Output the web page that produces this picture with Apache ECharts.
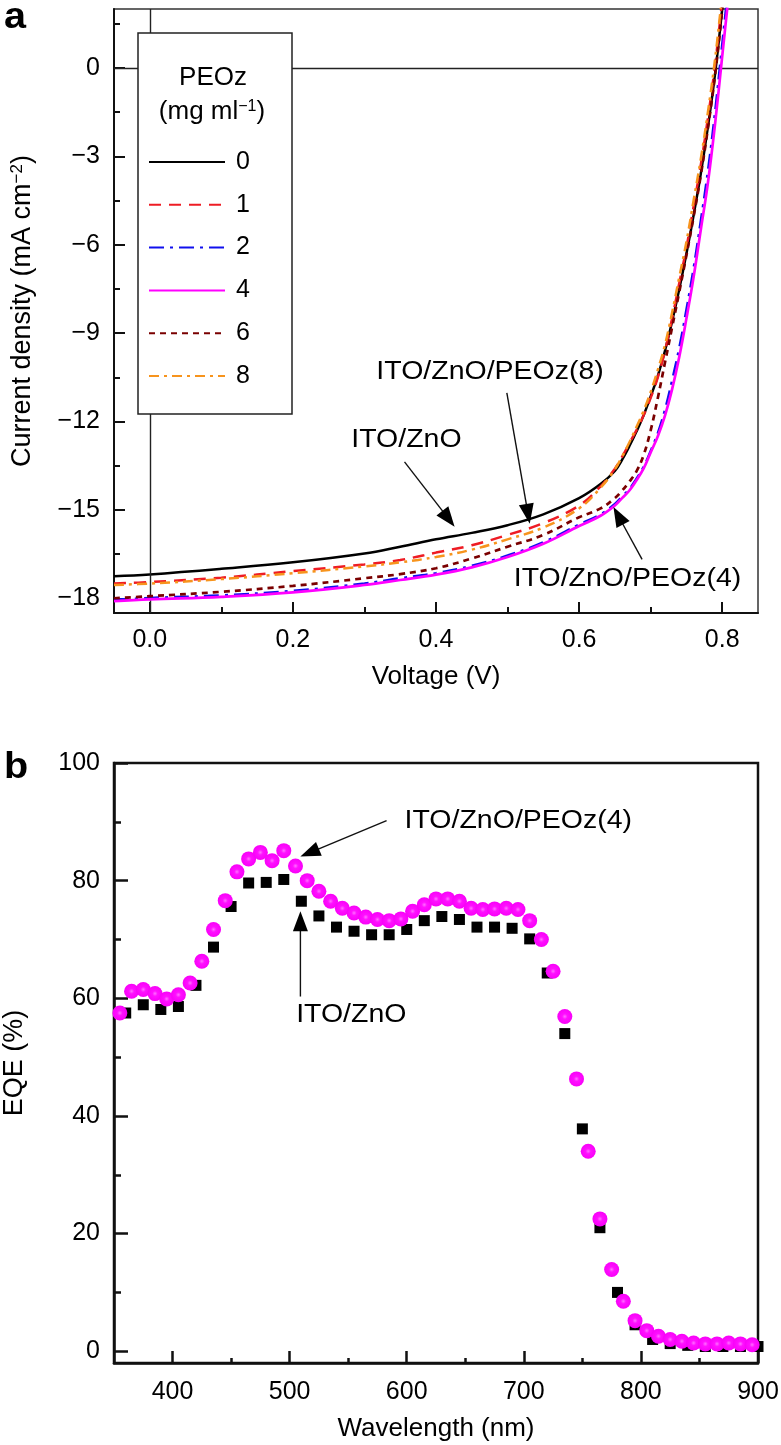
<!DOCTYPE html>
<html>
<head>
<meta charset="utf-8">
<script src="https://cdn.jsdelivr.net/npm/echarts@6.0.0/dist/echarts.min.js"></script>
<style>
html,body{margin:0;padding:0;background:#ffffff;}
#chart{width:781px;height:1445px;}
</style>
</head>
<body>
<div id="chart"></div>
<script>
// ---------------- Panel a : J–V curves ----------------
const voltage = [-0.05, 0, 0.1, 0.2, 0.3, 0.35, 0.4, 0.45, 0.5, 0.55, 0.6, 0.63, 0.65, 0.66, 0.67, 0.68, 0.69, 0.70, 0.71, 0.72, 0.73, 0.74, 0.75, 0.76, 0.77, 0.78, 0.79, 0.80, 0.81];
const jPEOz0 = [-17.25, -17.19, -17.0, -16.78, -16.48, -16.25, -16.0, -15.78, -15.52, -15.15, -14.6, -14.12, -13.68, -13.3, -12.85, -12.35, -11.8, -11.15, -10.45, -9.6, -8.6, -7.5, -6.3, -5.0, -3.6, -2.0, -0.2, 2.0, 4.3];
const jPEOz1 = [-17.5, -17.45, -17.3, -17.08, -16.85, -16.7, -16.45, -16.2, -15.85, -15.45, -14.85, -14.2, -13.6, -13.2, -12.75, -12.3, -11.8, -11.2, -10.5, -9.6, -8.5, -7.3, -6.1, -4.7, -3.3, -1.7, 0.1, 2.3, 4.6];
const jPEOz2 = [-18.05, -17.99, -17.9, -17.75, -17.5, -17.32, -17.15, -16.9, -16.55, -16.1, -15.5, -15.15, -14.8, -14.55, -14.3, -13.95, -13.55, -13.0, -12.4, -11.6, -10.6, -9.5, -8.2, -6.8, -5.2, -3.5, -1.5, 0.8, 3.1];
const jPEOz4 = [-18.1, -18.04, -17.95, -17.8, -17.55, -17.38, -17.2, -16.95, -16.6, -16.15, -15.55, -15.2, -14.85, -14.6, -14.35, -14.0, -13.6, -13.05, -12.5, -11.8, -10.9, -9.8, -8.5, -7.1, -5.5, -3.9, -1.9, 0.4, 2.7];
const jPEOz6 = [-18.0, -17.93, -17.78, -17.58, -17.32, -17.18, -16.98, -16.65, -16.25, -15.85, -15.25, -14.95, -14.6, -14.35, -14.05, -13.7, -13.15, -12.3, -11.2, -10.0, -8.8, -7.6, -6.35, -5.05, -3.65, -2.05, -0.25, 1.95, 4.25];
const jPEOz8 = [-17.55, -17.5, -17.35, -17.15, -16.92, -16.78, -16.6, -16.35, -16.0, -15.6, -14.95, -14.25, -13.62, -13.2, -12.72, -12.2, -11.65, -11.0, -10.25, -9.4, -8.3, -7.1, -5.9, -4.5, -3.1, -1.5, 0.3, 2.5, 4.8];
const concentrations = ['0', '1', '2', '4', '6', '8'];
const voltageTicks = [0, 0.2, 0.4, 0.6, 0.8];
const voltageMinorTicks = [0.1, 0.3, 0.5, 0.7];
const currentTicks = [-18, -15, -12, -9, -6, -3, 0];
const currentMinorTicks = [-16.5, -13.5, -10.5, -7.5, -4.5, -1.5, 1.5];

// ---------------- Panel b : EQE ----------------
const wavelengthPEOz4 = [355, 365, 375, 385, 395, 405, 415, 425, 435, 445, 455, 465, 475, 485, 495, 505, 515, 525, 535, 545, 555, 565, 575, 585, 595, 605, 615, 625, 635, 645, 655, 665, 675, 685, 695, 705, 715, 725, 735, 745, 755, 765, 775, 785, 795, 805, 815, 825, 835, 845, 855, 865, 875, 885, 895];
const eqePEOz4 = [57.5, 61.2, 61.5, 60.8, 59.9, 60.6, 62.6, 66.3, 71.7, 76.6, 81.5, 83.7, 84.8, 83.4, 85.1, 82.5, 80.0, 78.2, 76.5, 75.3, 74.5, 73.8, 73.4, 73.2, 73.5, 74.8, 75.9, 76.9, 76.9, 76.5, 75.3, 75.1, 75.2, 75.3, 75.1, 73.2, 70.0, 64.6, 56.9, 46.3, 34.0, 22.5, 13.9, 8.5, 5.2, 3.5, 2.55, 2.0, 1.7, 1.4, 1.25, 1.25, 1.4, 1.25, 1.1];
const wavelengthZnO = [360, 375, 390, 405, 420, 435, 450, 465, 480, 495, 510, 525, 540, 555, 570, 585, 600, 615, 630, 645, 660, 675, 690, 705, 720, 735, 750, 765, 780, 795, 810, 825, 840, 855, 870, 885, 900];
const eqeZnO = [57.5, 58.9, 58.1, 58.6, 62.2, 68.7, 75.6, 79.6, 79.7, 80.2, 76.5, 74.0, 72.1, 71.4, 70.8, 70.8, 71.7, 73.2, 73.9, 73.4, 72.1, 72.1, 71.9, 70.1, 64.3, 54.0, 37.8, 21.0, 10.0, 4.5, 2.0, 1.3, 1.0, 0.8, 0.8, 0.8, 0.8];
const wavelengthTicks = [400, 500, 600, 700, 800, 900];
const wavelengthMinorTicks = [450, 550, 650, 750, 850];
const eqeTicks = [0, 20, 40, 60, 80, 100];
const eqeMinorTicks = [10, 30, 50, 70, 90];

// ---------------- annotations (data coordinates) ----------------
const annotA = [
  {text: 'ITO/ZnO', at: [0.283, -12.62], tail: [0.356, -13.37], tip: [0.426, -15.57]},
  {text: 'ITO/ZnO/PEOz(8)', at: [0.318, -10.32], tail: [0.499, -11.03], tip: [0.531, -15.47]},
  {text: 'ITO/ZnO/PEOz(4)', at: [0.510, -17.36], tail: [0.688, -16.68], tip: [0.648, -14.9]}
];
const annotB = [
  {text: 'ITO/ZnO/PEOz(4)', at: [599, 90.1], tail: [582.8, 90.2], tip: [509.2, 84.1]},
  {text: 'ITO/ZnO', at: [506.4, 57.2], tail: [509.2, 60.3], tip: [509.2, 74.8]}
];

const FONT = '"Liberation Sans", Arial, Helvetica, sans-serif';
const jvStyles = {
  '0': {color: '#000000', type: 'solid', width: 2.5},
  '1': {color: '#ee1c24', type: [12, 8], width: 2.5},
  '2': {color: '#1010ee', type: [15, 6, 3, 6], width: 2.5},
  '4': {color: '#ff00ff', type: 'solid', width: 2.7},
  '6': {color: '#7a0000', type: [6, 5], width: 2.7},
  '8': {color: '#f7941d', type: [10, 5, 3, 5], width: 2.5}
};
const jvData = {'0': jPEOz0, '1': jPEOz1, '2': jPEOz2, '4': jPEOz4, '6': jPEOz6, '8': jPEOz8};

const minus = v => String(v).replace('-', '\u2212');

function valueAxis(extra) {
  return Object.assign({
    type: 'value',
    splitLine: {show: false},
    axisLine: {onZero: false, lineStyle: {color: '#111', width: 2}},
    axisLabel: {color: '#000', fontSize: 25, fontFamily: FONT},
    nameTextStyle: {color: '#000', fontSize: 26, fontFamily: FONT}
  }, extra);
}
function minorAxis(extra, values, len, width) {
  return Object.assign({
    type: 'value',
    splitLine: {show: false},
    axisLine: {show: false, onZero: false},
    axisLabel: {show: false},
    axisTick: {show: true, inside: true, length: len, customValues: values, lineStyle: {color: '#111', width: width}}
  }, extra);
}

const chart = echarts.init(document.getElementById('chart'), null, {renderer: 'canvas'});

const series = [];
concentrations.forEach((c, k) => {
  const st = jvStyles[c];
  const s = {
    name: c, type: 'line', xAxisIndex: 0, yAxisIndex: 0,
    symbol: 'none', smooth: 0.4, clip: true,
    lineStyle: {color: st.color, type: st.type, width: st.width},
    itemStyle: {color: st.color},
    data: voltage.map((v, i) => [v, jvData[c][i]]),
    z: 3 + k
  };
  if (c === '0') {
    s.markLine = {
      silent: true, symbol: ['none', 'none'], label: {show: false},
      lineStyle: {color: '#222', width: 1.4, type: 'solid'},
      data: [{xAxis: 0}, {yAxis: 0}],
      animation: false
    };
  }
  series.push(s);
});
series.push({
  name: 'ITO/ZnO', type: 'scatter', xAxisIndex: 2, yAxisIndex: 2,
  symbol: 'rect', symbolSize: 11, itemStyle: {color: '#000', opacity: 1},
  data: wavelengthZnO.map((w, i) => [w, eqeZnO[i]]), z: 3
});
series.push({
  name: 'ITO/ZnO/PEOz(4)', type: 'scatter', xAxisIndex: 2, yAxisIndex: 2,
  symbol: 'circle', symbolSize: 15,
  itemStyle: {opacity: 1, color: {type: 'radial', x: 0.5, y: 0.5, r: 0.5, colorStops: [
    {offset: 0, color: '#ff70ff'}, {offset: 0.35, color: '#ff10ff'}, {offset: 1, color: '#f800f8'}]}},
  data: wavelengthPEOz4.map((w, i) => [w, eqePEOz4[i]]), z: 4
});

const option = {
  animation: false,
  backgroundColor: '#ffffff',
  textStyle: {fontFamily: FONT, color: '#000'},
  grid: [
    {left: 114, top: 9, width: 644, height: 604, show: true, borderColor: '#333', borderWidth: 1.5, backgroundColor: 'transparent', outerBoundsMode: 'none', containLabel: false},
    {left: 114, top: 763, width: 644, height: 600, show: true, borderColor: '#111', borderWidth: 2.5, backgroundColor: 'transparent', outerBoundsMode: 'none', containLabel: false}
  ],
  xAxis: [
    valueAxis({gridIndex: 0, min: -0.05, max: 0.85, position: 'bottom',
      axisTick: {show: true, inside: true, length: 11, customValues: voltageTicks, lineStyle: {color: '#111', width: 2}},
      axisLabel: {color: '#000', fontSize: 25, fontFamily: FONT, margin: 15, customValues: voltageTicks, formatter: v => v.toFixed(1)},
      name: 'Voltage (V)', nameLocation: 'middle', nameGap: 51}),
    minorAxis({gridIndex: 0, min: -0.05, max: 0.85, position: 'bottom'}, voltageMinorTicks, 6, 2),
    valueAxis({gridIndex: 1, min: 350, max: 900, position: 'bottom',
      axisLine: {onZero: false, lineStyle: {color: '#111', width: 2.5}},
      axisTick: {show: true, inside: true, length: 12, customValues: wavelengthTicks, lineStyle: {color: '#111', width: 2.5}},
      axisLabel: {color: '#000', fontSize: 25, fontFamily: FONT, margin: 17, customValues: wavelengthTicks},
      name: 'Wavelength (nm)', nameLocation: 'middle', nameGap: 53}),
    minorAxis({gridIndex: 1, min: 350, max: 900, position: 'bottom'}, wavelengthMinorTicks, 5, 2.5)
  ],
  yAxis: [
    valueAxis({gridIndex: 0, min: -18.5, max: 2, position: 'left',
      axisTick: {show: true, inside: true, length: 11, customValues: currentTicks, lineStyle: {color: '#111', width: 2}},
      axisLabel: {color: '#000', fontSize: 25, fontFamily: FONT, margin: 14, customValues: currentTicks, formatter: minus},
      name: 'Current density (mA cm{sup|\u22122})', nameLocation: 'middle', nameGap: 78,
      nameTextStyle: {color: '#000', fontSize: 27, fontFamily: FONT,
        rich: {sup: {fontSize: 17, fontFamily: FONT, color: '#000', verticalAlign: 'top'}}}}),
    minorAxis({gridIndex: 0, min: -18.5, max: 2, position: 'left'}, currentMinorTicks, 6, 2),
    valueAxis({gridIndex: 1, min: -2, max: 100, position: 'left',
      axisLine: {onZero: false, lineStyle: {color: '#111', width: 2.5}},
      axisTick: {show: true, inside: true, length: 14, customValues: eqeTicks, lineStyle: {color: '#111', width: 2.5}},
      axisLabel: {color: '#000', fontSize: 25, fontFamily: FONT, margin: 14, customValues: eqeTicks},
      name: 'EQE (%)', nameLocation: 'middle', nameGap: 86,
      nameTextStyle: {color: '#000', fontSize: 27, fontFamily: FONT}}),
    minorAxis({gridIndex: 1, min: -2, max: 100, position: 'left'}, eqeMinorTicks, 7, 2.5)
  ],
  legend: {
    data: concentrations, orient: 'vertical', left: 148, top: 148,
    itemWidth: 76, itemHeight: 28, itemGap: 14.8, selectedMode: false, z: 20,
    itemStyle: {opacity: 0},
    textStyle: {color: '#000', fontSize: 25, fontFamily: FONT, lineHeight: 28, padding: [0, 0, 0, 6]},
    padding: 0
  },
  series: series
};
chart.setOption(option);

// ---------------- graphic overlays (legend frame, labels, arrows) ----------------
function arrowEls(tail, tip, headLen, half) {
  const dx = tip[0] - tail[0], dy = tip[1] - tail[1];
  const L = Math.hypot(dx, dy), ux = dx / L, uy = dy / L;
  const bx = tip[0] - ux * headLen, by = tip[1] - uy * headLen;
  return [
    {type: 'line', shape: {x1: tail[0], y1: tail[1], x2: bx + ux * 2, y2: by + uy * 2}, style: {stroke: '#111', lineWidth: 1.4}, z: 60},
    {type: 'polygon', shape: {points: [[tip[0], tip[1]], [bx - uy * half, by + ux * half], [bx + uy * half, by - ux * half]]}, style: {fill: '#000'}, z: 60}
  ];
}
function textEl(text, p, size, scaleX, weight) {
  return {type: 'text', x: p[0], y: p[1], scaleX: scaleX || 1, z: 60,
    style: {text: text, fontSize: size, fontFamily: FONT, fontWeight: weight || 'normal', fill: '#000',
      align: 'left', verticalAlign: 'middle', textAlign: 'left', textVerticalAlign: 'middle'}};
}
const els = [];
// legend frame + title
els.push({type: 'rect', shape: {x: 138, y: 33, width: 154, height: 381}, style: {fill: '#ffffff', stroke: '#222', lineWidth: 1.5}, z: 15});
els.push({type: 'text', x: 213, y: 78, z: 60, style: {text: 'PEOz', fontSize: 26, fontFamily: FONT, fill: '#000', align: 'center', verticalAlign: 'middle', textAlign: 'center', textVerticalAlign: 'middle'}});
els.push({type: 'text', x: 212, y: 112, z: 60, style: {text: '(mg ml{sup|\u22121})', fontSize: 26, fontFamily: FONT, fill: '#000', align: 'center', verticalAlign: 'middle', textAlign: 'center', textVerticalAlign: 'middle',
  rich: {sup: {fontSize: 16, fontFamily: FONT, fill: '#000', verticalAlign: 'top'}}}});
// panel letters
els.push(textEl('a', [4, 18], 36, 1.1, 'bold'));
els.push(textEl('b', [4, 768], 36, 1.1, 'bold'));
annotA.forEach(a => {
  const p = chart.convertToPixel({xAxisIndex: 0, yAxisIndex: 0}, a.at);
  els.push(textEl(a.text, [p[0] - 1, p[1]], 25, 1.14));
  const t = chart.convertToPixel({xAxisIndex: 0, yAxisIndex: 0}, a.tail);
  const h = chart.convertToPixel({xAxisIndex: 0, yAxisIndex: 0}, a.tip);
  arrowEls(t, h, 20, 7.5).forEach(e => els.push(e));
});
annotB.forEach(a => {
  const p = chart.convertToPixel({xAxisIndex: 2, yAxisIndex: 2}, a.at);
  els.push(textEl(a.text, [p[0] - 1, p[1]], 25, 1.14));
  const t = chart.convertToPixel({xAxisIndex: 2, yAxisIndex: 2}, a.tail);
  const h = chart.convertToPixel({xAxisIndex: 2, yAxisIndex: 2}, a.tip);
  arrowEls(t, h, 20, 7.5).forEach(e => els.push(e));
});
chart.setOption({graphic: {elements: els}});
</script>
</body>
</html>
